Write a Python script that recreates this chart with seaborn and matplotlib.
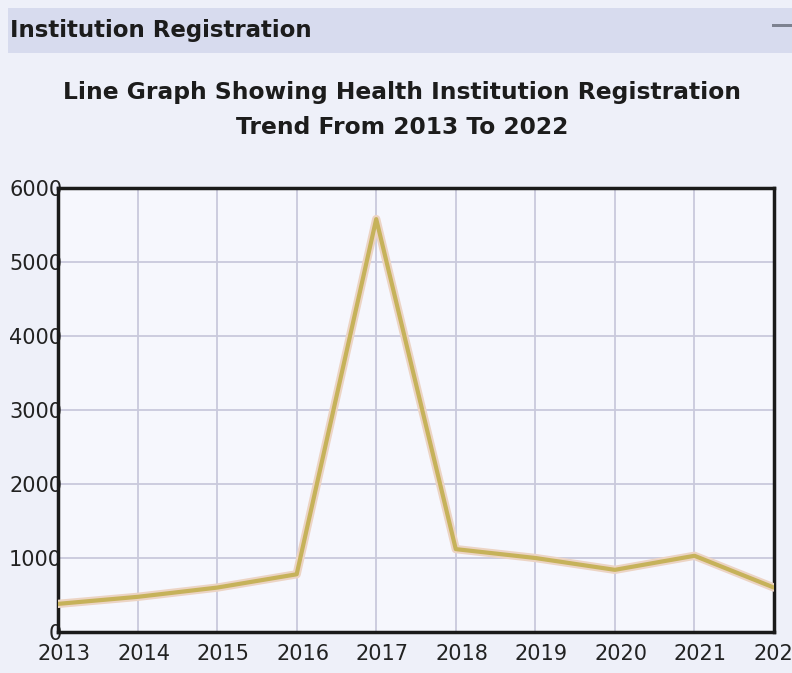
import matplotlib
matplotlib.use("Agg")
import matplotlib.pyplot as plt
import matplotlib.patches as mpatches
import matplotlib.transforms as mtransforms
import pandas as pd
import seaborn as sns

# values
years = [2013, 2014, 2015, 2016, 2017, 2018, 2019, 2020, 2021, 2022]
registrations = [380, 475, 600, 780, 5580, 1120, 1000, 840, 1030, 600]
y_ticks = [0, 1000, 2000, 3000, 4000, 5000, 6000]

panel_title = "Institution Registration"
chart_title = "Line Graph Showing Health Institution Registration\nTrend From 2013 To 2022"

df = pd.DataFrame({"year": years, "registrations": registrations})

sns.set_style("white")
plt.rcParams["font.family"] = ["DejaVu Sans"]

fig = plt.figure(figsize=(7.92, 6.73), dpi=100)
fig.patch.set_facecolor("#eef0f9")

# header bar
fig.patches.append(mpatches.Rectangle((8 / 792, 1 - 53 / 673), 1, 45 / 673,
                                      transform=fig.transFigure, facecolor="#d7dbee",
                                      edgecolor="none", zorder=0))
fig.patches.append(mpatches.Rectangle((772 / 792, 1 - 27 / 673), 20 / 792, 3 / 673,
                                      transform=fig.transFigure, facecolor="#7d8290",
                                      edgecolor="none", zorder=1))
fig.text(10 / 792, 1 - 30 / 673, panel_title, fontsize=16.5, fontweight="bold",
         color="#1c1c1c", ha="left", va="center")
fig.text(402 / 792, 1 - 110 / 673, chart_title, fontsize=16.8, fontweight="bold",
         color="#1c1c1c", ha="center", va="center", linespacing=1.7)

ax = fig.add_axes([58 / 792, 1 - 632 / 673, 716 / 792, 444 / 673])
ax.set_facecolor("#f6f7fd")

# pale halo under the main line
sns.lineplot(data=df, x="year", y="registrations", ax=ax, color="#ecd4c4",
             linewidth=6, zorder=3)
sns.lineplot(data=df, x="year", y="registrations", ax=ax, color="#c6b25a",
             linewidth=3, zorder=4)

ax.set_xlim(years[0], years[-1])
ax.set_ylim(0, 6000)
ax.set_xticks(years)
ax.set_xticklabels([str(y) for y in years])
ax.set_yticks(y_ticks)
ax.set_yticklabels([str(v) for v in y_ticks])
ax.grid(True, color="#c9c9dc", linewidth=1.3)
ax.set_axisbelow(True)
ax.tick_params(axis="both", length=0, labelsize=15, labelcolor="#222222")
ax.tick_params(axis="x", pad=9)
ax.tick_params(axis="y", pad=-3)
ax.set_xlabel("")
ax.set_ylabel("")
for s in ax.spines.values():
    s.set_visible(True)
    s.set_color("#1a1a1a")
    s.set_linewidth(2.5)

# x labels sit a little right of their ticks in the reference
shift = mtransforms.ScaledTranslation(6 / 100, 0, fig.dpi_scale_trans)
for lab in ax.get_xticklabels():
    lab.set_transform(lab.get_transform() + shift)
    lab.set_clip_on(False)

fig.savefig("out.png", dpi=100, facecolor=fig.get_facecolor())
